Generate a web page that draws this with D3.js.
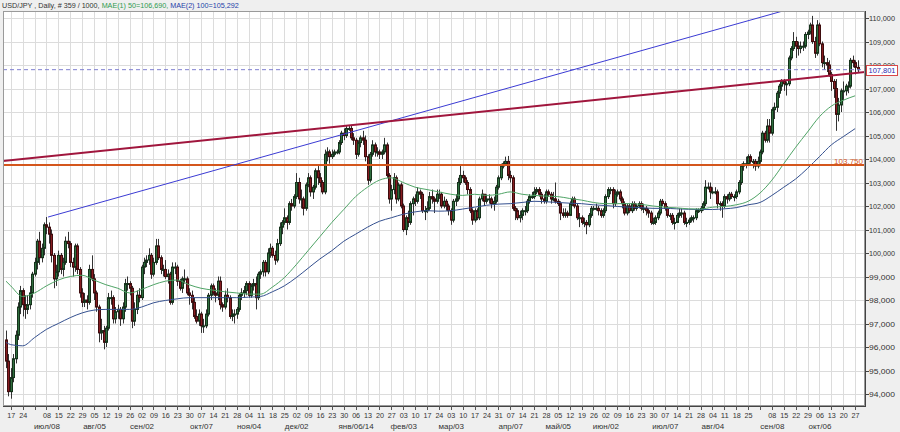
<!DOCTYPE html>
<html><head><meta charset="utf-8">
<script src="https://cdn.jsdelivr.net/npm/d3@7"></script>
<style>
html,body{margin:0;padding:0;background:#efefef;}
svg{display:block;font-family:"Liberation Sans",Arial,sans-serif;}
</style></head><body>
<svg id="c" width="900" height="432"></svg>
<script>
// ---------- DATA ----------
const symbol = "USD/JPY", period = "Daily", barsShown = 359, barsTotal = 1000;
const startDate = "2013-06-13", endDate = "2014-10-28";
const open = [
96.30,95.40,94.10,94.70,95.50,96.50,97.70,
98.40,97.80,97.60,97.80,98.30, 99.10,99.60,100.50,99.80,100.20, 101.20,101.10,100.80,99.90,98.90,
99.20,99.90,99.30,99.60,100.50, 100.40,99.60,99.40,100.30,99.30, 98.30,97.90,98.00,97.90,99.30,
98.90,98.30,97.70,96.60,96.70, 96.20,96.80,98.10,98.10,97.20, 97.50,97.60,97.20,97.70,98.70,
98.70,98.50,97.10,97.60,98.20, 98.10,99.40,99.60,99.70,99.90, 99.10,99.60,100.30,99.80,99.30,
99.30,99.00,99.10,97.90,99.40, 99.40,98.80,98.50,98.90,98.90, 98.30,98.20,97.90,97.30,97.10,
97.40,96.90,96.90,97.40,98.20, 98.60,98.30,98.20,98.80,97.80, 97.70,98.20,98.10,97.30,97.40,
97.40,97.60,98.20,98.30,98.40, 98.70,98.20,98.60,98.70,98.10, 99.10,99.20,99.60,99.20,100.00,
100.20,99.90,99.70,100.40,101.10, 101.30,101.50,101.30,102.10,102.00, 102.40,103.00,102.30,102.30,101.90,
102.90,103.20,102.60,102.80,103.50, 103.20,103.00,102.60,104.20,104.30, 104.10,104.20,104.30,104.30,104.70,
105.10,105.00,105.30,105.30,104.90, 104.80,104.20,104.70,104.90,104.80, 104.10,103.10,104.20,104.60,104.30,
104.30,104.20,104.30,104.60,103.30, 102.30,102.70,103.20,102.30,102.90, 102.00,101.00,101.50,101.30,102.10,
102.30,102.20,102.60,102.50,101.80, 101.80,101.90,102.40,102.30,102.20, 102.50,102.50,102.00,102.20,102.00,
101.80,101.40,102.20,102.30,103.00, 103.30,103.20,103.00,102.70,101.80, 101.40,101.80,101.50,102.30,102.50,
102.20,102.30,102.30,102.10,102.20, 102.80,103.20,103.70,103.80,103.90, 103.30,103.20,101.90,101.80,101.50,
101.60,101.80,101.80,102.20,102.40, 102.40,102.60,102.70,102.50,102.30, 102.20,102.60,102.50,102.30,102.30,
102.20,102.10,101.70,101.60,101.70, 101.60,102.10,102.30,102.00,101.50, 101.50,101.30,101.30,101.20,101.60,
101.90,101.90,101.90,101.80,101.60, 101.80,102.40,102.70,102.70,102.10, 102.50,102.60,102.30,102.10,101.70,
102.00,101.80,102.10,101.90,102.00, 102.10,101.90,101.90,101.80,101.70, 101.30,101.30,101.50,101.70,102.20,
102.10,101.90,101.60,101.60,101.30, 101.30,101.60,101.70,101.70,101.30, 101.30,101.40,101.50,101.50,101.80,
101.80,101.90,102.10,102.80,102.80, 102.60,102.60,102.60,102.10,102.10, 102.00,102.40,102.30,102.50,102.40,
102.40,102.60,103.00,103.70,103.80, 103.80,104.10,103.90,103.90,103.70, 103.90,104.30,105.10,104.80,105.40,
105.10,106.10,106.20,106.80,107.10, 107.30,107.20,107.20,108.30,108.70, 109.00,108.80,108.70,108.80,108.80,
109.30,109.40,109.70,109.00,108.50, 109.70,108.90,108.10,108.10,108.00, 107.60,107.30,107.00,105.90,106.30,
106.90,106.90,107.10,107.10,108.20, 108.10,107.90];
const high = [
96.70,95.70,95.10,95.70,96.70,97.90,98.60,
98.50,98.20,98.20,98.60,99.20, 99.80,100.60,100.90,100.40,101.30, 101.53,101.30,101.00,100.00,99.50,
100.10,100.00,99.80,100.70,100.90, 100.50,99.80,100.40,100.40,99.40, 98.50,98.30,98.20,99.50,99.90,
99.10,98.40,97.80,97.20,96.90, 96.90,98.30,98.40,98.20,97.70, 97.80,97.70,97.90,98.90,99.00,
98.80,98.60,97.90,98.40,98.50, 99.50,99.80,99.90,100.20,100.00, 99.80,100.60,100.60,99.90,99.50,
99.70,99.30,99.20,99.60,99.60, 99.50,98.90,99.00,99.30,99.00, 98.50,98.40,98.10,97.60,97.60,
97.50,97.20,97.60,98.30,98.70, 98.70,98.50,99.00,99.00,97.90, 98.40,98.50,98.20,97.60,97.60,
97.70,98.30,98.50,98.60,98.80, 98.80,98.70,98.90,99.00,99.20, 99.30,99.70,99.70,100.20,100.40,
100.30,100.10,100.60,101.30,101.40, 101.90,101.60,102.20,102.30,102.50, 103.40,103.20,102.70,102.40,103.00,
103.40,103.30,102.90,103.60,103.70, 103.40,103.10,104.40,104.50,104.40, 104.40,104.40,104.40,104.80,105.20,
105.30,105.40,105.40,105.45,105.10, 104.90,104.80,105.00,105.20,105.00, 104.20,104.30,104.80,104.70,104.50,
104.40,104.40,104.90,104.70,103.40, 102.90,103.40,103.30,103.00,103.00, 102.10,101.60,101.80,102.20,102.40,
102.50,102.80,102.70,102.60,102.00, 102.20,102.60,102.70,102.40,102.70, 102.70,102.60,102.40,102.30,102.10,
101.90,102.30,102.50,103.20,103.70, 103.50,103.30,103.10,102.80,101.90, 101.90,101.90,102.40,102.70,102.50,
102.50,102.50,102.40,102.40,102.90, 103.30,103.80,103.90,104.10,104.13, 103.50,103.30,102.00,101.90,101.80,
101.90,102.00,102.30,102.50,102.60, 102.80,102.80,102.80,102.60,102.50, 102.70,102.70,102.60,102.60,103.00,
102.30,102.20,101.90,101.90,101.80, 102.20,102.40,102.40,102.10,101.70, 101.60,101.50,101.40,101.70,102.00,
102.00,102.10,102.00,101.90,101.90, 102.50,102.80,102.80,102.80,102.70, 102.70,102.70,102.40,102.20,102.10,
102.10,102.20,102.20,102.10,102.20, 102.20,102.10,102.00,101.90,101.80, 101.50,101.60,101.80,102.30,102.30,
102.20,102.00,101.70,101.70,101.50, 101.70,101.90,101.90,101.80,101.50, 101.50,101.60,101.60,101.90,101.90,
102.00,102.20,103.10,103.00,103.00, 102.80,102.80,102.70,102.20,102.20, 102.50,102.50,102.60,102.60,102.50,
102.70,103.10,103.80,103.90,104.10, 104.20,104.20,104.00,104.00,104.10, 104.40,105.20,105.20,105.70,105.70,
106.20,106.40,106.90,107.20,107.40, 107.40,107.30,108.40,108.80,109.40, 109.20,109.00,109.00,109.00,109.40,
109.50,109.80,110.09,109.20,109.91, 109.80,109.00,108.40,108.30,108.20, 107.70,107.40,107.40,106.60,107.00,
107.30,107.20,107.30,108.30,108.40, 108.20,108.20];
const low = [
95.10,93.90,93.80,94.50,95.30,96.30,97.40,
97.30,97.20,97.40,97.60,98.10, 99.00,99.30,99.50,99.60,99.90, 100.80,100.40,99.60,98.50,98.60,
99.00,99.10,99.00,99.50,100.20, 99.40,99.00,99.20,99.10,98.10, 97.70,97.70,97.60,97.80,98.80,
98.00,97.50,96.20,96.30,95.90, 96.00,96.70,97.80,97.00,97.00, 97.20,96.90,97.00,97.50,98.40,
98.20,96.80,96.90,97.40,97.90, 98.00,99.10,99.40,99.50,98.90, 99.00,99.50,99.70,99.10,99.00,
98.90,98.70,97.80,97.80,99.10, 98.60,98.40,98.30,98.70,98.20, 97.80,97.60,97.20,97.00,96.90,
96.60,96.60,96.80,97.30,98.00, 98.20,97.90,98.00,97.60,97.50, 97.60,97.90,97.20,97.10,97.00,
97.20,97.50,98.00,98.10,98.20, 98.10,98.10,98.40,97.60,98.00, 98.90,99.00,99.00,99.10,99.80,
99.80,99.50,99.60,100.30,100.80, 101.20,101.00,101.20,101.80,101.90, 102.30,102.10,101.90,101.60,101.80,
102.80,102.40,102.30,102.70,102.90, 102.80,102.50,102.50,103.90,103.80, 104.00,104.10,104.20,104.20,104.60,
104.80,104.90,105.20,104.80,104.60, 104.00,104.10,104.50,104.60,103.90, 102.90,103.00,104.10,104.10,104.10,
104.00,104.00,104.20,103.20,102.10, 101.80,102.50,102.10,102.20,101.90, 100.90,100.76,101.10,101.20,101.60,
102.00,102.10,102.30,101.70,101.40, 101.70,101.80,102.10,101.70,102.10, 102.30,101.90,101.90,101.80,101.60,
101.20,101.30,102.00,102.20,102.90, 103.00,102.90,102.50,101.70,101.20, 101.30,101.40,101.40,102.20,102.00,
102.10,102.10,101.90,101.80,102.10, 102.70,103.10,103.60,103.70,103.10, 103.00,101.80,101.40,101.40,101.30,
101.40,101.60,101.70,102.10,102.30, 102.30,102.50,102.40,102.10,102.10, 102.10,102.40,102.10,102.20,102.10,
102.00,101.40,101.50,101.50,101.50, 101.60,102.00,101.90,101.40,101.10, 101.20,101.10,100.80,101.10,101.50,
101.80,101.80,101.60,101.50,101.50, 101.70,102.30,102.50,101.90,102.00, 102.40,102.20,101.90,101.60,101.60,
101.70,101.70,101.80,101.80,101.90, 101.80,101.70,101.60,101.50,101.20, 101.20,101.20,101.40,101.60,102.00,
101.80,101.50,101.40,101.20,101.00, 101.30,101.50,101.50,101.20,101.10, 101.20,101.30,101.30,101.40,101.70,
101.70,101.80,102.00,102.70,102.30, 102.50,102.50,101.90,101.80,101.50, 101.90,102.10,102.20,102.30,102.20,
102.30,102.50,102.90,103.50,103.60, 103.70,103.80,103.60,103.50,103.60, 103.80,104.20,104.70,104.70,104.70,
105.00,105.70,106.00,106.60,106.90, 106.90,106.70,107.10,108.20,108.60, 108.30,108.40,108.50,108.60,108.70,
109.10,109.30,108.90,108.30,108.40, 108.80,107.90,107.80,107.70,107.50, 106.90,106.60,105.20,105.60,106.00,
106.50,106.70,106.80,107.00,107.90, 107.60,107.70];
const close = [
95.40,94.10,94.70,95.50,96.50,97.70,98.40,
97.80,97.60,97.80,98.30,99.10, 99.60,100.50,99.80,100.20,101.20, 101.10,100.80,99.90,98.90,99.20,
99.90,99.30,99.60,100.50,100.40, 99.60,99.40,100.30,99.30,98.30, 97.90,98.00,97.90,99.30,98.90,
98.30,97.70,96.60,96.70,96.20, 96.80,98.10,98.10,97.20,97.50, 97.60,97.20,97.70,98.70,98.70,
98.50,97.10,97.60,98.20,98.10, 99.40,99.60,99.70,99.90,99.10, 99.60,100.30,99.80,99.30,99.30,
99.00,99.10,97.90,99.40,99.40, 98.80,98.50,98.90,98.90,98.30, 98.20,97.90,97.30,97.10,97.40,
96.90,96.90,97.40,98.20,98.60, 98.30,98.20,98.80,97.80,97.70, 98.20,98.10,97.30,97.40,97.40,
97.60,98.20,98.30,98.40,98.70, 98.20,98.60,98.70,98.10,99.10, 99.20,99.60,99.20,100.00,100.20,
99.90,99.70,100.40,101.10,101.30, 101.50,101.30,102.10,102.00,102.40, 103.00,102.30,102.30,101.90,102.90,
103.20,102.60,102.80,103.50,103.20, 103.00,102.60,104.20,104.30,104.10, 104.20,104.30,104.30,104.70,105.10,
105.00,105.30,105.30,104.90,104.80, 104.20,104.70,104.90,104.80,104.10, 103.10,104.20,104.60,104.30,104.30,
104.20,104.30,104.60,103.30,102.30, 102.70,103.20,102.30,102.90,102.00, 101.00,101.50,101.30,102.10,102.30,
102.20,102.60,102.50,101.80,101.80, 101.90,102.40,102.30,102.20,102.50, 102.50,102.00,102.20,102.00,101.80,
101.40,102.20,102.30,103.00,103.30, 103.20,103.00,102.70,101.80,101.40, 101.80,101.50,102.30,102.50,102.20,
102.30,102.30,102.10,102.20,102.80, 103.20,103.70,103.80,103.90,103.30, 103.20,101.90,101.80,101.50,101.60,
101.80,101.80,102.20,102.40,102.40, 102.60,102.70,102.50,102.30,102.20, 102.60,102.50,102.30,102.30,102.20,
102.10,101.70,101.60,101.70,101.60, 102.10,102.30,102.00,101.50,101.50, 101.30,101.30,101.20,101.60,101.90,
101.90,101.90,101.80,101.60,101.80, 102.40,102.70,102.70,102.10,102.50, 102.60,102.30,102.10,101.70,102.00,
101.80,102.10,101.90,102.00,102.10, 101.90,101.90,101.80,101.70,101.30, 101.30,101.50,101.70,102.20,102.10,
101.90,101.60,101.60,101.30,101.30, 101.60,101.70,101.70,101.30,101.30, 101.40,101.50,101.50,101.80,101.80,
101.90,102.10,102.80,102.80,102.60, 102.60,102.60,102.10,102.10,102.00, 102.40,102.30,102.50,102.40,102.40,
102.60,103.00,103.70,103.80,103.80, 104.10,103.90,103.90,103.70,103.90, 104.30,105.10,104.80,105.40,105.10,
106.10,106.20,106.80,107.10,107.30, 107.20,107.20,108.30,108.70,109.00, 108.80,108.70,108.80,108.80,109.30,
109.40,109.70,109.00,108.50,109.70, 108.90,108.10,108.10,108.00,107.60, 107.30,107.00,105.90,106.30,106.90,
106.90,107.10,107.10,108.20,108.10, 107.90,107.801];
// moving averages, one sample per week (bar 0, each Monday, last bar)
const ma50 = [98.80,98.60,98.15,98.30,98.60,98.85,99.00,99.05,98.85,98.65,98.50,98.30,98.45,98.65,98.80,98.85,
98.65,98.50,98.42,98.35,98.30,98.25,98.25,98.55,98.95,99.50,100.10,100.70,101.30,101.85,102.40,102.80,103.10,
103.20,103.00,102.80,102.70,102.60,102.50,102.45,102.50,102.45,102.50,102.60,102.50,102.45,102.42,102.40,102.32,
102.25,102.15,102.10,102.10,102.10,102.07,102.00,101.95,101.92,101.88,101.87,101.95,101.98,102.05,102.20,102.55,
103.10,103.80,104.50,105.15,105.80,106.25,106.50,106.690];
const ma100 = [96.20,96.10,96.05,96.40,96.75,97.00,97.25,97.45,97.57,97.60,97.60,97.60,97.70,97.88,97.98,98.05,
98.10,98.10,98.10,98.10,98.10,98.12,98.15,98.35,98.60,98.95,99.35,99.75,100.10,100.50,100.80,101.10,101.35,
101.50,101.65,101.75,101.80,101.78,101.80,101.87,101.95,102.03,102.08,102.10,102.15,102.20,102.18,102.15,102.12,
102.10,102.05,102.02,101.98,101.95,101.93,101.90,101.90,101.88,101.86,101.85,101.85,101.88,101.93,102.05,102.15,
102.45,102.80,103.15,103.60,104.10,104.60,104.95,105.292];
const lastPrice = 107.801, levelPrice = 103.75;
// trend lines: [bar index, price]
const trendRed = [[-1.3, 103.91], [361.3, 107.70]];
const trendBlue = [[17.7, 101.53], [308.7, 109.79]];
const yTickValues = [94,95,96,97,98,99,100,101,102,103,104,105,106,107,108,109,110];
const skippedDayTicks = ["2013-07-01","2014-09-01"];
const monthLabels = [["2013-07-08","июл/08"],["2013-08-05","авг/05"],["2013-09-02","сен/02"],["2013-10-07","окт/07"],
["2013-11-04","ноя/04"],["2013-12-02","дек/02"],["2014-01-06","янв/06/14"],["2014-02-03","фев/03"],["2014-03-03","мар/03"],
["2014-04-07","апр/07"],["2014-05-05","май/05"],["2014-06-02","июн/02"],["2014-07-07","июл/07"],["2014-08-04","авг/04"],
["2014-09-08","сен/08"],["2014-10-06","окт/06"]];

// ---------- CHART ----------
const W=900,H=432,L=3,R=865,T=11,B=406;
const parse = d3.utcParse("%Y-%m-%d"), key = d3.utcFormat("%Y-%m-%d"), dayFmt = d3.utcFormat("%d");
const dates = d3.utcDay.range(parse(startDate), d3.utcDay.offset(parse(endDate),1)).filter(d=>d.getUTCDay()>0&&d.getUTCDay()<6);
const n = close.length;
const idxOf = new Map(dates.map((d,i)=>[key(d),i]));
const x = d3.scaleLinear().domain([0,n-1]).range([6,857.5]);
const y = d3.scaleLinear().domain([94,110]).range([394,18]);
const loc = d3.formatLocale({decimal:",",thousands:" ",grouping:[3],currency:["",""]});
const f3 = loc.format(".3f");

const svg = d3.select("#c");
svg.append("rect").attr("width",W).attr("height",H).attr("fill","#efefef");
svg.append("defs").append("clipPath").attr("id","clip").append("rect").attr("x",L).attr("y",T).attr("width",R-L).attr("height",B-T);
svg.append("rect").attr("x",L).attr("y",T).attr("width",R-L).attr("height",B-T).attr("fill","#fff");

const mondays = dates.map((d,i)=>({d,i})).filter(o=>o.d.getUTCDay()===1);
const g = svg.append("g").attr("clip-path","url(#clip)");
// grid
g.selectAll(".hg").data(yTickValues).join("line")
  .attr("x1",L).attr("x2",R).attr("y1",v=>Math.round(y(v))+0.5).attr("y2",v=>Math.round(y(v))+0.5)
  .attr("stroke","#dcdcdc");
g.selectAll(".vg").data(mondays).join("line")
  .attr("x1",o=>Math.round(x(o.i))+0.5).attr("x2",o=>Math.round(x(o.i))+0.5).attr("y1",T).attr("y2",B)
  .attr("stroke","#dcdcdc");

// candles
const bars = d3.range(n);
g.selectAll(".wick").data(bars).join("line")
  .attr("x1",i=>Math.round(x(i))+0.5).attr("x2",i=>Math.round(x(i))+0.5)
  .attr("y1",i=>y(high[i])).attr("y2",i=>y(low[i]))
  .attr("stroke","#333").attr("stroke-width",1);
g.selectAll(".body").data(bars).join("rect")
  .attr("x",i=>Math.round(x(i))-0.5).attr("width",2)
  .attr("y",i=>y(Math.max(open[i],close[i])))
  .attr("height",i=>Math.max(1,Math.abs(y(open[i])-y(close[i]))))
  .attr("fill",i=>close[i]>=open[i]?"#2f6e3e":"#861d21")
  .attr("stroke",i=>close[i]>=open[i]?"#15321b":"#3e0c0e").attr("stroke-width",1);

// moving averages
const maIdx = [0].concat(mondays.map(o=>o.i)).concat([n-1]);
const line = d3.line().x(d=>x(d[0])).y(d=>y(d[1])).curve(d3.curveMonotoneX);
g.append("path").attr("d",line(d3.zip(maIdx,ma100))).attr("fill","none").attr("stroke","#34508f").attr("stroke-width",1);
g.append("path").attr("d",line(d3.zip(maIdx,ma50))).attr("fill","none").attr("stroke","#4fa466").attr("stroke-width",1);

// horizontal levels
g.append("line").attr("x1",L).attr("x2",R).attr("y1",y(lastPrice)).attr("y2",y(lastPrice))
  .attr("stroke","#7f7fd0").attr("stroke-width",1).attr("stroke-dasharray","4,3");
g.append("line").attr("x1",L).attr("x2",R).attr("y1",y(levelPrice)).attr("y2",y(levelPrice))
  .attr("stroke","#d4561c").attr("stroke-width",2);

// trend lines (extended linearly to the plot edges)
function ext(p,q,i0,i1){const s=(q[1]-p[1])/(q[0]-p[0]);return [[i0,p[1]+s*(i0-p[0])],[i1,p[1]+s*(i1-p[0])]];}
const plain = d3.line().x(d=>x(d[0])).y(d=>y(d[1]));
g.append("path").attr("d",plain(ext(trendBlue[0],trendBlue[1],trendBlue[0][0],345))).attr("fill","none").attr("stroke","#3b3bd4").attr("stroke-width",1);
g.append("path").attr("d",plain(trendRed)).attr("fill","none").attr("stroke","#a0163d").attr("stroke-width",2);

// frame & right axis
svg.append("rect").attr("x",L+0.5).attr("y",T+0.5).attr("width",R-L-1).attr("height",B-T-1).attr("fill","none").attr("stroke","#9a9a9a");
svg.append("line").attr("x1",R+0.5).attr("x2",R+0.5).attr("y1",T).attr("y2",B+1).attr("stroke","#444");
svg.append("line").attr("x1",L).attr("x2",R+1).attr("y1",B+0.5).attr("y2",B+0.5).attr("stroke","#444");
svg.selectAll(".yt").data(yTickValues).join("line")
  .attr("x1",R).attr("x2",R+4).attr("y1",v=>Math.round(y(v))+0.5).attr("y2",v=>Math.round(y(v))+0.5).attr("stroke","#444");
svg.selectAll(".yl").data(yTickValues).join("text")
  .attr("x",869).attr("y",v=>y(v)+3).attr("font-size",8).attr("fill","#333")
  .attr("textLength",26).attr("lengthAdjust","spacingAndGlyphs").text(v=>f3(v));

// price box
svg.append("rect").attr("x",866.5).attr("y",Math.round(y(lastPrice))-4.5).attr("width",31).attr("height",10)
  .attr("fill","#fff").attr("stroke","#d84848");
svg.append("text").attr("x",868.5).attr("y",y(lastPrice)+3).attr("font-size",8).attr("fill","#2a2ab0")
  .attr("textLength",27).attr("lengthAdjust","spacingAndGlyphs").text(f3(lastPrice));
svg.append("text").attr("x",863).attr("y",y(levelPrice)-1).attr("text-anchor","end").attr("font-size",8).attr("fill","#d4561c")
  .text(f3(levelPrice));

// bottom axis
const dayTicks = mondays.filter(o=>!skippedDayTicks.includes(key(o.d)));
svg.selectAll(".xt").data(mondays).join("line")
  .attr("x1",o=>Math.round(x(o.i))+0.5).attr("x2",o=>Math.round(x(o.i))+0.5).attr("y1",B).attr("y2",B+4).attr("stroke","#555");
svg.selectAll(".xl").data(dayTicks).join("text")
  .attr("x",o=>x(o.i)+0.5).attr("y",417.5).attr("text-anchor","middle").attr("font-size",8).attr("fill","#333")
  .attr("textLength",8).attr("lengthAdjust","spacingAndGlyphs").text(o=>dayFmt(o.d));
svg.selectAll(".ml").data(monthLabels).join("text")
  .attr("x",m=>x(idxOf.get(m[0]))+0.5).attr("y",428.5).attr("text-anchor","middle").attr("font-size",8).attr("fill","#333")
  .text(m=>m[1]);

// header (one text line, coloured parts)
const hdr = [
  {t:`${symbol} , ${period}, # ${barsShown} / ${barsTotal}, `, c:"#333"},
  {t:`MAE(1) 50=${f3(ma50[ma50.length-1])}, `, c:"#2e9a4e"},
  {t:`MAE(2) 100=${f3(ma100[ma100.length-1])}`, c:"#2440a8"}];
svg.append("text").attr("x",2).attr("y",8).attr("font-size",7.2).attr("xml:space","preserve")
  .selectAll("tspan").data(hdr).join("tspan").attr("fill",d=>d.c).text(d=>d.t);
</script>
</body></html>
